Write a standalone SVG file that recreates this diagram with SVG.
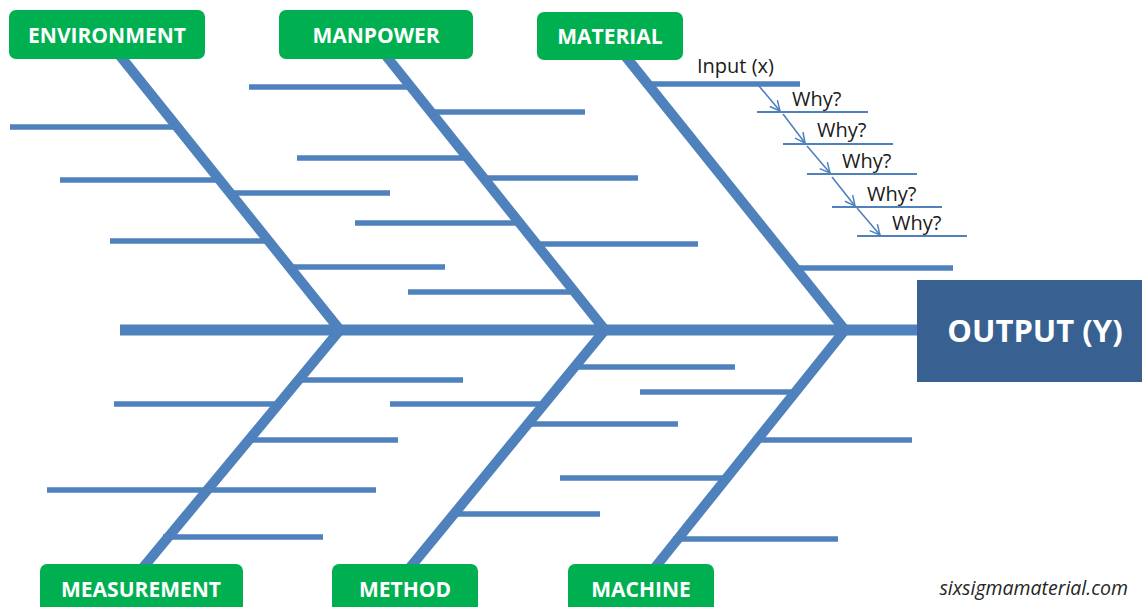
<svg xmlns="http://www.w3.org/2000/svg" width="1142" height="607" viewBox="0 0 1142 607">
<defs>
<style>
.bone{fill:none;stroke:#4F81BD;stroke-width:10;stroke-linejoin:miter;stroke-miterlimit:10}
.spine{stroke:#4F81BD;stroke-width:11}
.rib{stroke:#4F81BD;stroke-width:5.5}
.why{stroke:#4F81BD;stroke-width:2}
.arr{stroke:#4F81BD;stroke-width:1.6;fill:none}
.cat{fill:#00B050}
.catt{font-family:"Open Sans","Liberation Sans",sans-serif;font-weight:bold;font-size:21px;fill:#fff;text-anchor:middle}
.lbl{font-family:"Open Sans","Liberation Sans",sans-serif;font-size:20px;fill:#1a1a1a}
</style>
<marker id="ah" viewBox="0 0 12 12" refX="11" refY="6" markerWidth="12" markerHeight="12" markerUnits="userSpaceOnUse" orient="auto">
<path d="M1,1 L11,6 L1,11" fill="none" stroke="#4F81BD" stroke-width="1.5"/>
</marker>
</defs>
<rect width="1142" height="607" fill="#fff"/>
<g id="connectors">
<line class="spine" x1="120" y1="330" x2="918" y2="330"/>
<polyline class="bone" points="117,52 340,330 141,570"/>
<polyline class="bone" points="383,52 605,330 408,570"/>
<polyline class="bone" points="622,52 845,330 653,570"/>
<line class="rib" x1="10" y1="127" x2="174" y2="127"/>
<line class="rib" x1="60" y1="180" x2="217" y2="180"/>
<line class="rib" x1="228" y1="193" x2="390" y2="193"/>
<line class="rib" x1="110" y1="241" x2="267" y2="241"/>
<line class="rib" x1="288" y1="267" x2="445" y2="267"/>
<line class="rib" x1="249" y1="87" x2="407" y2="87"/>
<line class="rib" x1="427" y1="112" x2="585" y2="112"/>
<line class="rib" x1="297" y1="158" x2="465" y2="158"/>
<line class="rib" x1="481" y1="178" x2="638" y2="178"/>
<line class="rib" x1="355" y1="223" x2="518" y2="223"/>
<line class="rib" x1="535" y1="244" x2="698" y2="244"/>
<line class="rib" x1="408" y1="292" x2="574" y2="292"/>
<line class="rib" x1="643" y1="84" x2="800" y2="84"/>
<line class="rib" x1="794" y1="268" x2="953" y2="268"/>
<line class="rib" x1="297" y1="380" x2="463" y2="380"/>
<line class="rib" x1="114" y1="404" x2="277" y2="404"/>
<line class="rib" x1="246" y1="440" x2="398" y2="440"/>
<line class="rib" x1="47" y1="490" x2="203" y2="490"/>
<line class="rib" x1="203" y1="490" x2="376" y2="490"/>
<line class="rib" x1="163" y1="537" x2="323" y2="537"/>
<line class="rib" x1="574" y1="367" x2="735" y2="367"/>
<line class="rib" x1="390" y1="404" x2="542" y2="404"/>
<line class="rib" x1="526" y1="424" x2="678" y2="424"/>
<line class="rib" x1="450" y1="514" x2="600" y2="514"/>
<line class="rib" x1="640" y1="392" x2="794" y2="392"/>
<line class="rib" x1="754" y1="440" x2="912" y2="440"/>
<line class="rib" x1="560" y1="478" x2="723" y2="478"/>
<line class="rib" x1="673" y1="539" x2="838" y2="539"/>
<line class="why" x1="757" y1="112" x2="868" y2="112"/>
<line class="why" x1="783" y1="144" x2="893" y2="144"/>
<line class="why" x1="807" y1="174" x2="917" y2="174"/>
<line class="why" x1="832" y1="207" x2="942" y2="207"/>
<line class="why" x1="857" y1="236" x2="967" y2="236"/>
<line class="arr" x1="759" y1="86" x2="780" y2="111" marker-end="url(#ah)"/>
<line class="arr" x1="783" y1="114" x2="805" y2="143" marker-end="url(#ah)"/>
<line class="arr" x1="807" y1="146" x2="830" y2="173" marker-end="url(#ah)"/>
<line class="arr" x1="832" y1="177" x2="855" y2="206" marker-end="url(#ah)"/>
<line class="arr" x1="857" y1="208" x2="880" y2="235" marker-end="url(#ah)"/>
</g>
<g id="environment"><rect class="cat" x="9" y="10" width="196" height="49" rx="7"/><text class="catt" x="107" y="43">ENVIRONMENT</text></g>
<g id="manpower"><rect class="cat" x="279" y="10" width="194" height="49" rx="7"/><text class="catt" x="376" y="43">MANPOWER</text></g>
<g id="material"><rect class="cat" x="537" y="12" width="146" height="48" rx="7"/><text class="catt" x="610" y="44">MATERIAL</text></g>
<g id="measurement"><rect class="cat" x="40" y="564" width="203" height="56" rx="7"/><text class="catt" x="141" y="597">MEASUREMENT</text></g>
<g id="method"><rect class="cat" x="332" y="564" width="146" height="56" rx="7"/><text class="catt" x="405" y="597">METHOD</text></g>
<g id="machine"><rect class="cat" x="568" y="564" width="146" height="56" rx="7"/><text class="catt" x="641" y="597">MACHINE</text></g>
<g id="output"><rect x="917" y="280" width="230" height="102" fill="#386192"/><text x="1035" y="342" font-family="'Open Sans','Liberation Sans',sans-serif" font-weight="bold" font-size="31" fill="#fff" text-anchor="middle">OUTPUT (Y)</text></g>
<g id="labels">
<text class="lbl" x="697" y="73">Input (x)</text>
<text class="lbl" x="792" y="106">Why?</text>
<text class="lbl" x="817" y="137">Why?</text>
<text class="lbl" x="842" y="168">Why?</text>
<text class="lbl" x="867" y="201">Why?</text>
<text class="lbl" x="892" y="230">Why?</text>
</g>
<text id="watermark" x="1128" y="595" text-anchor="end" font-family="'Open Sans','Liberation Sans',sans-serif" font-style="italic" font-size="19.5" fill="#262626">sixsigmamaterial.com</text>
</svg>
